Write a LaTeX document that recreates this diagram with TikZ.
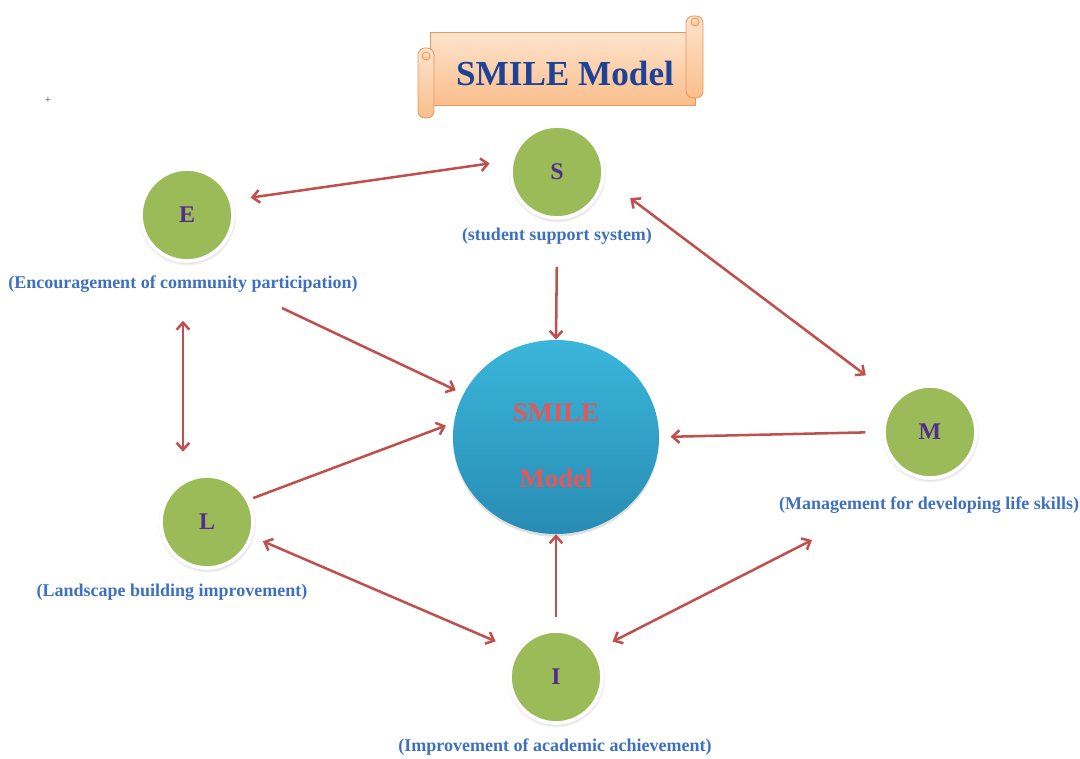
\documentclass[tikz,border=0pt]{standalone}
\usepackage{fontspec}
\setmainfont{Liberation Serif}
\usetikzlibrary{positioning,
                arrows.meta,                % arrow tips
                shapes.geometric,           % ellipse
                shadows}

\definecolor{leaf}{RGB}{155,187,89}
\definecolor{letter}{RGB}{84,44,140}
\definecolor{capblue}{RGB}{62,112,192}
\definecolor{arrowred}{RGB}{192,80,77}
\definecolor{hubtop}{RGB}{58,182,218}
\definecolor{hubbot}{RGB}{40,140,180}
\definecolor{hubtext}{RGB}{228,86,88}
\definecolor{scrollhi}{RGB}{253,228,205}
\definecolor{scrolllo}{RGB}{250,190,140}
\definecolor{scrolledge}{RGB}{236,150,90}
\definecolor{titleblue}{RGB}{31,66,150}

\tikzset{
    letternode/.style={circle, minimum size=2.3cm, fill=leaf, draw=white,
                       line width=2.6pt, text=letter,
                       font=\fontsize{17}{17}\selectfont\bfseries,
                       circular drop shadow={shadow xshift=0pt, shadow yshift=-1pt,
                                             opacity=.5, shadow scale=1.07}},
    caption/.style={text=capblue, inner sep=2pt,
                    font=\fontsize{12.8}{12.8}\selectfont\bfseries},
    link/.style={draw=arrowred, line width=1.8pt},
    barb/.style={{Straight Barb[length=5pt,width=9pt]}-{Straight Barb[length=5pt,width=9pt]}},
    tobarb/.style={-{Straight Barb[length=5pt,width=9pt]}},
    scroll/.style={draw=scrolledge, line width=.6pt, top color=scrollhi,
                   bottom color=scrolllo}
}

\begin{document}
\begin{tikzpicture}[x=0.025cm, y=-0.025cm]
        \useasboundingbox (0,0) rectangle (1080,758);

        % banner
        \path[scroll, drop shadow={opacity=.2, shadow xshift=1pt, shadow yshift=-1pt}]
                (430,32) rectangle (695,105);
        \path[scroll, rounded corners=5] (686,16) rectangle (703,98);
        \path[scroll] (695,22) circle (4);
        \path[scroll, rounded corners=5] (418,48) rectangle (434,118);
        \path[scroll] (426,56) circle (4);
        \node[text=titleblue, font=\fontsize{25}{25}\selectfont\bfseries]
                (title) at (565,73) {SMILE Model};

        \node[font=\fontsize{8}{8}\selectfont, text=black!70] (plus) at (48,100) {+};

        \node[ellipse, minimum width=5.15cm, minimum height=4.85cm,
              top color=hubtop, bottom color=hubbot,
              drop shadow={opacity=.25, shadow xshift=0pt, shadow yshift=-2pt}]
                (hub) at (556,437) {};
        \node[text=hubtext, font=\fontsize{19}{19}\selectfont\bfseries] (hubA) at (556,413) {SMILE};
        \node[text=hubtext, font=\fontsize{19}{19}\selectfont\bfseries] (hubB) at (556,478) {Model};

        \node[letternode] (S) at (557,172) {S};
        \node[letternode] (E) at (187,215) {E};
        \node[letternode] (M) at (930,432) {M};
        \node[letternode] (L) at (207,522) {L};
        \node[letternode] (I) at (556,677) {I};

        \node[caption] (Slab) at (557,236) {(student support system)};
        \node[caption] (Elab) at (183,284) {(Encouragement of community participation)};
        \node[caption] (Mlab) at (929,505) {(Management for developing life skills)};
        \node[caption] (Llab) at (172,592) {(Landscape building improvement)};
        \node[caption] (Ilab) at (555,747) {(Improvement of academic achievement)};

        \coordinate (eout) at (282,308);
        \coordinate (mtip) at (812,540);

        \draw[link, barb, shorten <=13pt, shorten >=15pt] (E.18) -- (S.166);
        \draw[link, tobarb, shorten <=14pt] (Slab.south) -- (hub.north);
        \draw[link, barb, shorten <=23pt, shorten >=27pt] (S.-8) -- (M.135);
        \draw[link, tobarb, shorten >=6pt] (eout) -- (hub.155);
        \draw[link, barb, shorten <=18pt, shorten >=16pt] (Elab.south) -- (Elab.south |- L.north);
        \draw[link, tobarb, shorten <=3pt, shorten >=6pt] (L.28) -- (hub.172);
        \draw[link, tobarb, shorten <=12pt, shorten >=8pt] (M.west) -- (hub.east);
        \draw[link, barb, shorten <=8pt, shorten >=16pt] (L.-18) -- (I.146);
        \draw[link, tobarb, shorten <=8.5pt] (I.north) -- (hub.south);
        \draw[link, barb, shorten <=13.5pt] (I.34) -- (mtip);

\end{tikzpicture}
\end{document}
